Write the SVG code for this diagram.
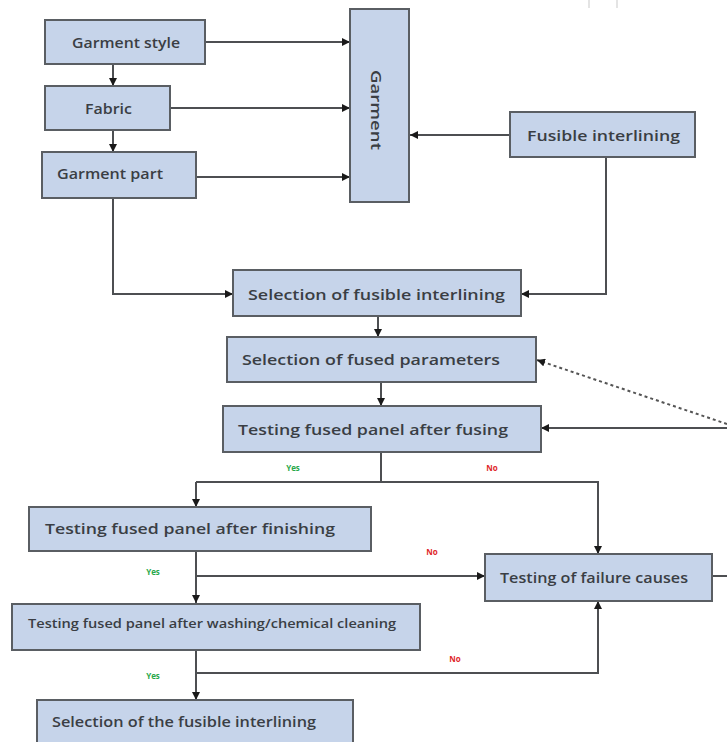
<svg xmlns="http://www.w3.org/2000/svg" width="727" height="742" viewBox="0 0 727 742">
<defs>
<marker id="ah" viewBox="0 0 10 10" refX="10" refY="5" markerWidth="8" markerHeight="8" markerUnits="userSpaceOnUse" orient="auto">
<path d="M0,0 L10,5 L0,10 z" fill="#1a1a1a"/>
</marker>
<style>
.box{fill:#c6d4ea;stroke:#5a5e63;stroke-width:2}
.t{font-family:"Open Sans","Noto Sans",sans-serif;font-size:15px;font-weight:600;fill:#3a3e44;dominant-baseline:central}
.ln{fill:none;stroke:#4d4f52;stroke-width:2}
.ar{fill:none;stroke:#4d4f52;stroke-width:2;marker-end:url(#ah)}
.y{font-family:"Open Sans","Noto Sans",sans-serif;font-size:8px;font-weight:700;fill:#2aa84a}
.n{font-family:"Open Sans","Noto Sans",sans-serif;font-size:8px;font-weight:700;fill:#e0282a}
</style>
</defs>
<rect width="727" height="742" fill="#ffffff"/>
<g stroke="#e4e4e4" stroke-width="2"><line x1="589" y1="0" x2="589" y2="8"/><line x1="617" y1="0" x2="617" y2="8"/></g>

<g id="connectors">
<path class="ar" d="M205,42 H350"/>
<path class="ar" d="M170,108 H350"/>
<path class="ar" d="M196,177 H350"/>
<path class="ar" d="M113,64 V86"/>
<path class="ar" d="M113,130 V152"/>
<path class="ar" d="M510,135 H410"/>
<path class="ar" d="M113,198 V294 H233"/>
<path class="ar" d="M606,157 V294 H521"/>
<path class="ar" d="M378,316 V337"/>
<path class="ar" d="M381,382 V406"/>
<path class="ar" d="M727,428 H541"/>
<path d="M727,424 L537,360" fill="none" stroke="#555" stroke-width="2" stroke-dasharray="3,3" marker-end="url(#ah)"/>
<path class="ln" d="M381,452 V482"/>
<path class="ar" d="M196,482 V507"/>
<path class="ar" d="M196,482 H598 V554"/>
<path class="ar" d="M196,551 V603"/>
<path class="ar" d="M196,576 H485"/>
<path class="ln" d="M712,576 H727"/>
<path class="ar" d="M196,650 V700"/>
<path class="ar" d="M196,673 H598 V601"/>
</g>

<g id="labels">
<text class="y" x="293" y="471" text-anchor="middle">Yes</text>
<text class="n" x="492" y="471" text-anchor="middle">No</text>
<text class="y" x="153" y="575" text-anchor="middle">Yes</text>
<text class="n" x="432" y="555" text-anchor="middle">No</text>
<text class="y" x="153" y="679" text-anchor="middle">Yes</text>
<text class="n" x="455" y="662" text-anchor="middle">No</text>
</g>

<g id="garment-style"><rect class="box" x="45" y="20" width="160" height="44"/><text class="t" x="72" y="42" textLength="108" lengthAdjust="spacingAndGlyphs">Garment style</text></g>
<g id="fabric"><rect class="box" x="45" y="86" width="125" height="44"/><text class="t" x="85" y="108" textLength="47" lengthAdjust="spacingAndGlyphs">Fabric</text></g>
<g id="garment-part"><rect class="box" x="42" y="152" width="154" height="46"/><text class="t" x="57" y="173" textLength="106" lengthAdjust="spacingAndGlyphs">Garment part</text></g>
<g id="garment"><rect class="box" x="350" y="9" width="59" height="193"/><text class="t" transform="translate(377,110) rotate(90)" text-anchor="middle" textLength="80" lengthAdjust="spacingAndGlyphs">Garment</text></g>
<g id="fusible-interlining"><rect class="box" x="510" y="112" width="185" height="45"/><text class="t" x="527" y="135" textLength="153" lengthAdjust="spacingAndGlyphs">Fusible interlining</text></g>
<g id="sel-fusible"><rect class="box" x="233" y="270" width="288" height="46"/><text class="t" x="248" y="294" textLength="257" lengthAdjust="spacingAndGlyphs">Selection of fusible interlining</text></g>
<g id="sel-params"><rect class="box" x="227" y="337" width="309" height="45"/><text class="t" x="242" y="359" textLength="258" lengthAdjust="spacingAndGlyphs">Selection of fused parameters</text></g>
<g id="test-fusing"><rect class="box" x="223" y="406" width="318" height="46"/><text class="t" x="238" y="429" textLength="270" lengthAdjust="spacingAndGlyphs">Testing fused panel after fusing</text></g>
<g id="test-finishing"><rect class="box" x="29" y="507" width="342" height="44"/><text class="t" x="45" y="528" textLength="290" lengthAdjust="spacingAndGlyphs">Testing fused panel after finishing</text></g>
<g id="failure"><rect class="box" x="485" y="554" width="227" height="47"/><text class="t" x="500" y="577" textLength="188" lengthAdjust="spacingAndGlyphs">Testing of failure causes</text></g>
<g id="test-washing"><rect class="box" x="12" y="604" width="408" height="46"/><text class="t" x="28" y="623" style="font-size:13px" textLength="368" lengthAdjust="spacingAndGlyphs">Testing fused panel after washing/chemical cleaning</text></g>
<g id="sel-final"><rect class="box" x="37" y="700" width="316" height="50"/><text class="t" x="52" y="721" textLength="264" lengthAdjust="spacingAndGlyphs">Selection of the fusible interlining</text></g>
</svg>
